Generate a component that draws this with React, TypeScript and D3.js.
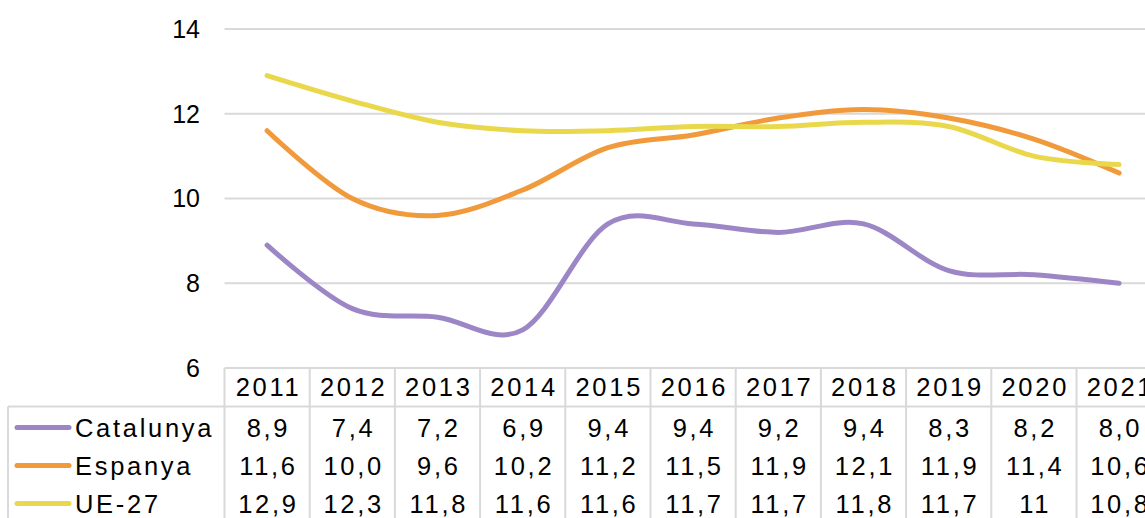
import React from "react";
import * as d3 from "d3";

const years = ["2011","2012","2013","2014","2015","2016","2017","2018","2019","2020","2021"];
const catalunya = [8.9, 7.4, 7.2, 6.9, 9.4, 9.4, 9.2, 9.4, 8.3, 8.2, 8.0];
const espanya = [11.6, 10.0, 9.6, 10.2, 11.2, 11.5, 11.9, 12.1, 11.9, 11.4, 10.6];
const ue27 = [12.9, 12.3, 11.8, 11.6, 11.6, 11.7, 11.7, 11.8, 11.7, 11.0, 10.8];
const catalunyaLabels = ["8,9","7,4","7,2","6,9","9,4","9,4","9,2","9,4","8,3","8,2","8,0"];
const espanyaLabels = ["11,6","10,0","9,6","10,2","11,2","11,5","11,9","12,1","11,9","11,4","10,6"];
const ue27Labels = ["12,9","12,3","11,8","11,6","11,6","11,7","11,7","11,8","11,7","11","10,8"];
const yTicks = [6, 8, 10, 12, 14];

const seriesList = [
  { name: "Catalunya", values: catalunya, labels: catalunyaLabels, color: "#9D86C6" },
  { name: "Espanya", values: espanya, labels: espanyaLabels, color: "#F19A3B" },
  { name: "UE-27", values: ue27, labels: ue27Labels, color: "#EAD84C" },
];

export default function App() {
  const W = 1145, H = 518;
  const left = 224.5, colW = 85.2;
  const x = d3.scaleBand<string>().domain(years).range([left, left + colW * years.length]).padding(0);
  const y = d3.scaleLinear().domain([6, 14]).range([368, 29]);
  const cx = (yr: string) => (x(yr) as number) + x.bandwidth() / 2;
  const line = d3.line<number>()
    .x((_, i) => cx(years[i]))
    .y((v) => y(v))
    .curve(d3.curveCardinal.tension(0));
  const grid = "#D9D9D9";
  const font = "'Liberation Sans', Arial, sans-serif";
  const headerTop = 368, headerBottom = 406.5, rowH = 38;
  const ls = 2.7;
  const fs = 25.5;
  return (
    <svg width={W} height={H} style={{ position: "absolute", left: 0, top: 0, display: "block" }}>
      <rect width={W} height={H} fill="#fff" />
      {yTicks.filter((t) => t !== 6).map((t) => (
        <line key={t} x1={left} x2={W} y1={y(t)} y2={y(t)} stroke={grid} strokeWidth={2} />
      ))}
      {yTicks.map((t) => (
        <text key={t} x={200} y={y(t)} dy="0.35em" textAnchor="end" fontFamily={font} fontSize={25} fill="#000">{t}</text>
      ))}
      {/* table borders */}
      <line x1={left} x2={W} y1={headerTop} y2={headerTop} stroke={grid} strokeWidth={2} />
      <line x1={8} x2={W} y1={headerBottom} y2={headerBottom} stroke={grid} strokeWidth={2} />
      <line x1={8} x2={8} y1={headerBottom} y2={H} stroke={grid} strokeWidth={2} />
      {years.map((yr) => (
        <line key={yr} x1={x(yr) as number} x2={x(yr) as number} y1={headerTop} y2={H} stroke={grid} strokeWidth={2} />
      ))}
      {years.map((yr) => (
        <text key={yr} x={cx(yr) + ls / 2} y={(headerTop + headerBottom) / 2} dy="0.36em" textAnchor="middle" fontFamily={font} fontSize={fs} letterSpacing={ls} fill="#000">{yr}</text>
      ))}
      {seriesList.map((s, si) => {
        const ry = headerBottom + rowH * si + rowH / 2 + 2;
        return (
          <g key={s.name}>
            <line x1={17} x2={69} y1={ry} y2={ry} stroke={s.color} strokeWidth={5} strokeLinecap="round" />
            <text x={75} y={ry} dy="0.36em" fontFamily={font} fontSize={fs} letterSpacing={ls} fill="#000">{s.name}</text>
            {s.labels.map((lab, i) => (
              <text key={i} x={cx(years[i]) + ls / 2} y={ry} dy="0.36em" textAnchor="middle" fontFamily={font} fontSize={fs} letterSpacing={ls} fill="#000">{lab}</text>
            ))}
          </g>
        );
      })}
      {seriesList.map((s) => (
        <path key={s.name} d={line(s.values) as string} fill="none" stroke={s.color} strokeWidth={5} strokeLinecap="round" strokeLinejoin="round" />
      ))}
    </svg>
  );
}
